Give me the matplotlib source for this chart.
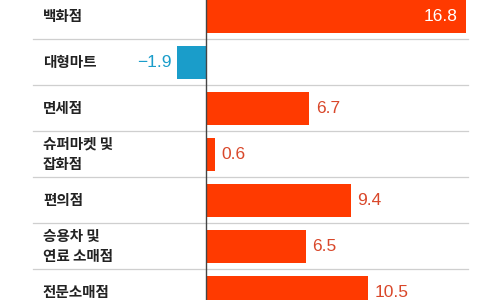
import matplotlib.pyplot as plt

categories = ["백화점", "대형마트", "면세점", "슈퍼마켓 및\n잡화점", "편의점", "승용차 및\n연료 소매점", "전문소매점"]
values = [16.8, -1.9, 6.7, 0.6, 9.4, 6.5, 10.5]

red = "#ff3a00"
blue = "#1a9dca"
label_red = "#d9472a"

fig = plt.figure(figsize=(5, 3), dpi=100)
ax = fig.add_axes([0, 0, 1, 1])

y = list(range(len(values)))
colors = [red if v >= 0 else blue for v in values]
ax.barh(y, values, height=0.72, color=colors, zorder=2)

# separators between rows
for i in range(len(values) - 1):
    ax.plot([-11.2, 16.95], [i + 0.5, i + 0.5], color="#cfcfcf", lw=0.9, zorder=1)

ax.axvline(0, color="#444444", lw=1.0, zorder=3)

for i, (c, v) in enumerate(zip(categories, values)):
    ax.text(-10.55, i, c, ha="left", va="center", fontsize=10.5, fontweight="bold",
            family=["Noto Sans CJK KR", "DejaVu Sans"], color="#222222", linespacing=1.35)
    s = f"{v:.1f}".replace("-", "\u2212")
    if v >= 15:
        ax.text(v - 0.5, i, s, ha="right", va="center", fontsize=12.5,
                family="Liberation Sans", color="white")
    elif v < 0:
        ax.text(v - 0.35, i, s, ha="right", va="center", fontsize=12.5,
                family="Liberation Sans", color=blue)
    else:
        ax.text(v + 0.4, i, s, ha="left", va="center", fontsize=12.5,
                family="Liberation Sans", color=label_red)

ax.set_xlim(-13.33, 19.03)
ax.set_ylim(6.17, -0.35)
ax.axis("off")

fig.savefig("out.png", dpi=100)
